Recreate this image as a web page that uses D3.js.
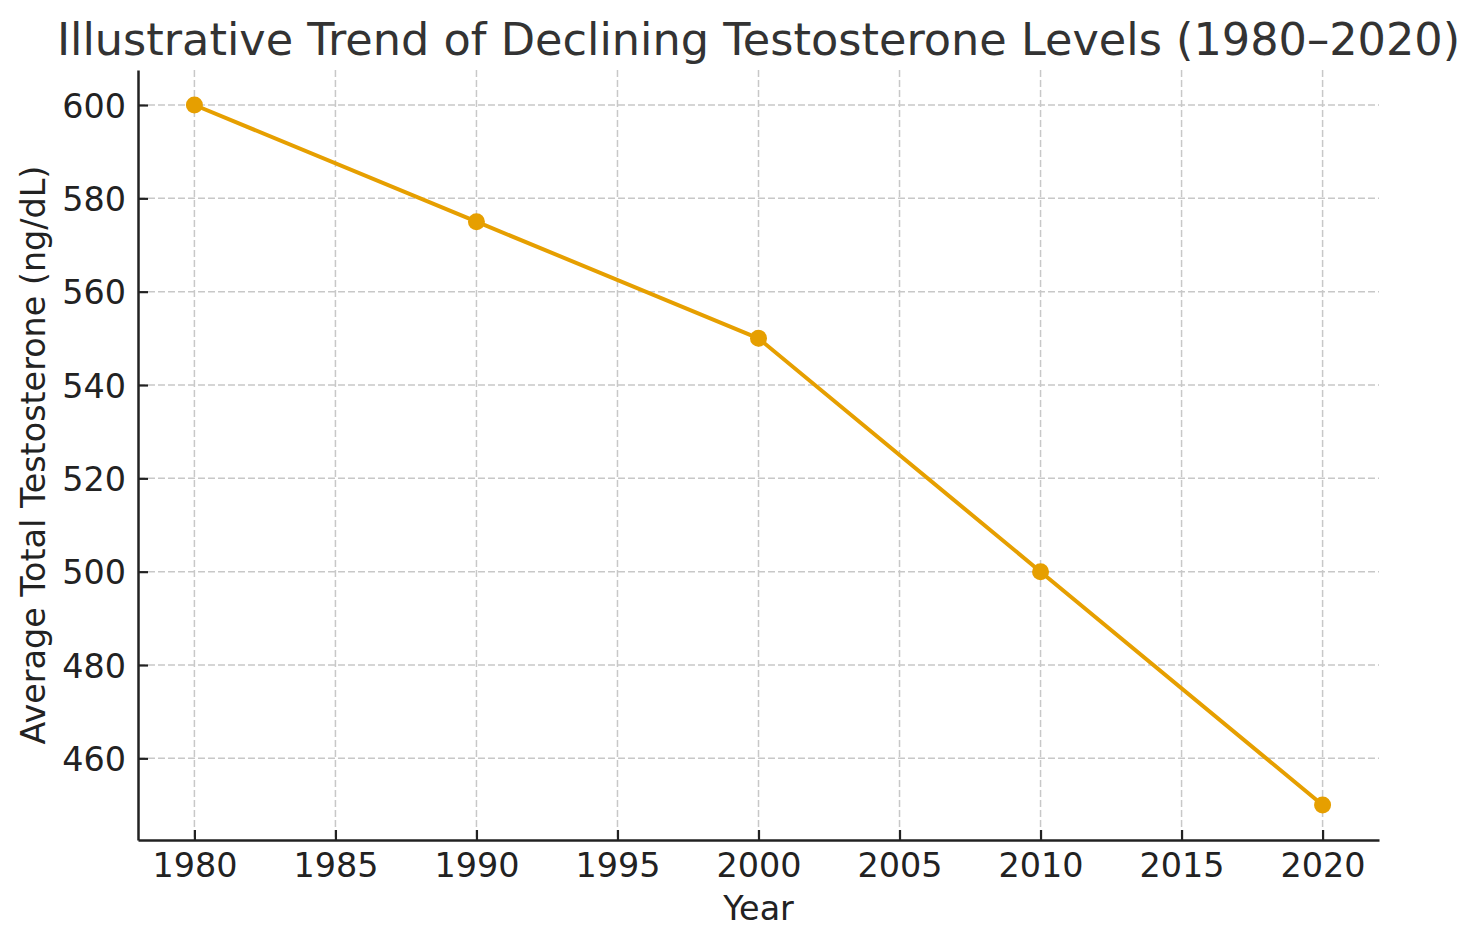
<!DOCTYPE html>
<html>
<head>
<meta charset="utf-8">
<script src="https://cdn.jsdelivr.net/npm/d3@7"></script>
<style>
  html, body { margin: 0; padding: 0; background: #fff; }
  svg { display: block; font-family: "DejaVu Sans", sans-serif; }
</style>
</head>
<body>
<svg id="chart" width="1477" height="947"></svg>
<script>
const years = [1980, 1990, 2000, 2010, 2020];
const testosterone = [600, 575, 550, 500, 450];
const xTicks = [1980, 1985, 1990, 1995, 2000, 2005, 2010, 2015, 2020];
const yTicks = [460, 480, 500, 520, 540, 560, 580, 600];
const titleText = "Illustrative Trend of Declining Testosterone Levels (1980–2020)";
const xLabelText = "Year";
const yLabelText = "Average Total Testosterone (ng/dL)";

(function () {
const svg = d3.select("#chart");
const mLeft = 138, mRight = 1379, mTop = 70, mBottom = 840;
const color = "#E69F00";

const x = d3.scaleLinear().domain([1978, 2022]).range([mLeft, mRight]);
const y = d3.scaleLinear().domain([442.5, 607.5]).range([mBottom, mTop]);

// grid
const grid = svg.append("g");
grid.selectAll("line.vg").data(xTicks).join("line")
  .attr("x1", d => x(d)).attr("x2", d => x(d))
  .attr("y1", mTop).attr("y2", mBottom)
  .attr("stroke", "#c8c8c8").attr("stroke-width", 1.5)
  .attr("stroke-dasharray", "7,3");
grid.selectAll("line.hg").data(yTicks).join("line")
  .attr("y1", d => y(d)).attr("y2", d => y(d))
  .attr("x1", mLeft).attr("x2", mRight)
  .attr("stroke", "#c8c8c8").attr("stroke-width", 1.5)
  .attr("stroke-dasharray", "7,3");

// axes
const xAxis = d3.axisBottom(x).tickValues(xTicks).tickFormat(d3.format("d"))
  .tickSizeInner(-10).tickSizeOuter(0).tickPadding(13);
const yAxis = d3.axisLeft(y).tickValues(yTicks).tickFormat(d3.format("d"))
  .tickSizeInner(-10).tickSizeOuter(0).tickPadding(12);

const gx = svg.append("g").attr("transform", `translate(0,${mBottom})`).call(xAxis);
const gy = svg.append("g").attr("transform", `translate(${mLeft},0)`).call(yAxis);
[gx, gy].forEach(g => {
  g.select(".domain").attr("stroke", "#222").attr("stroke-width", 2.5);
  g.selectAll(".tick line").attr("stroke", "#222").attr("stroke-width", 2.2);
  g.selectAll(".tick text").attr("fill", "#222")
    .style("font-family", "DejaVu Sans").style("font-size", "33.4px");
});
gx.selectAll(".tick text").attr("dy", "0.71em");
gy.selectAll(".tick text").attr("dy", "0.36em");

// line
const line = d3.line().x((d, i) => x(years[i])).y(d => y(d));
svg.append("path").datum(testosterone)
  .attr("d", line).attr("fill", "none")
  .attr("stroke", color).attr("stroke-width", 4).attr("stroke-linejoin", "round");
svg.selectAll("circle.pt").data(testosterone).join("circle")
  .attr("cx", (d, i) => x(years[i])).attr("cy", d => y(d))
  .attr("r", 8.5).attr("fill", color);

// title & labels
svg.append("text").attr("x", (mLeft + mRight) / 2).attr("y", 55)
  .attr("text-anchor", "middle").attr("fill", "#333")
  .style("font-size", "44.6px").text(titleText);
svg.append("text").attr("x", (mLeft + mRight) / 2).attr("y", 920)
  .attr("text-anchor", "middle").attr("fill", "#222")
  .style("font-size", "33.4px").text(xLabelText);
svg.append("text").attr("transform", `translate(45,${(mTop + mBottom) / 2}) rotate(-90)`)
  .attr("text-anchor", "middle").attr("fill", "#222")
  .style("font-size", "33.4px").text(yLabelText);
})();
</script>
</body>
</html>
